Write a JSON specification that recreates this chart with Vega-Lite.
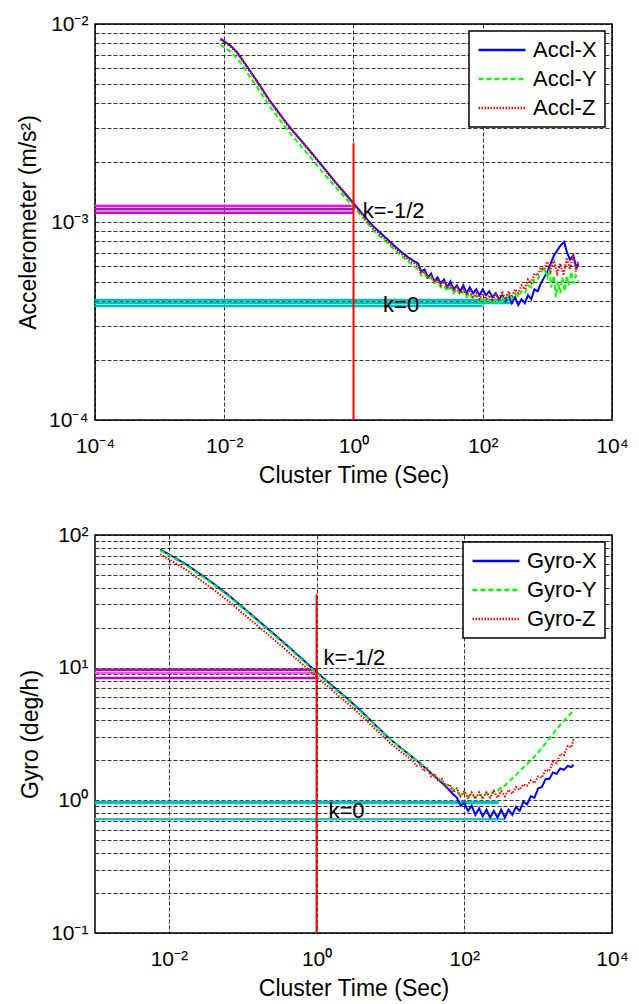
{
  "$schema": "https://vega.github.io/schema/vega-lite/v6.json",
  "padding": {"left": 16, "top": 12, "right": 0, "bottom": 0},
  "spacing": 35,
  "config": {
    "font": "Liberation Sans",
    "view": {"stroke": "#000000", "strokeWidth": 1.5},
    "axis": {
      "domain": false,
      "ticks": false,
      "grid": true,
      "gridColor": "#000000",
      "gridDash": [4, 2],
      "gridWidth": 0.8,
      "labelFont": "Liberation Sans",
      "labelFontSize": 21,
      "labelColor": "#000000",
      "titleFont": "Liberation Sans",
      "titleFontSize": 23,
      "titleFontWeight": "normal",
      "titleColor": "#000000",
      "labelOverlap": false,
      "labelFlush": false,
      "labelBound": false
    },
    "axisX": {"labelPadding": 15, "titlePadding": 8},
    "axisY": {"labelPadding": 7, "titlePadding": 8},
    "legend": {
      "strokeColor": "#000000",
      "fillColor": "#ffffff",
      "strokeWidth": 1.5,
      "padding": 8,
      "cornerRadius": 0,
      "symbolType": "stroke",
      "symbolSize": 2209,
      "symbolStrokeWidth": 2.5,
      "clipHeight": 22,
      "labelFont": "Liberation Sans",
      "labelFontSize": 22,
      "labelColor": "#000000",
      "labelOffset": 6,
      "rowPadding": 7
    }
  },
  "datasets": {
    "accl": [
      {"series": "Accl-X", "tau": 0.00871, "adev": 0.00843},
      {"series": "Accl-X", "tau": 0.01, "adev": 0.00817},
      {"series": "Accl-X", "tau": 0.01259, "adev": 0.00776},
      {"series": "Accl-X", "tau": 0.01585, "adev": 0.00719},
      {"series": "Accl-X", "tau": 0.01995, "adev": 0.00646},
      {"series": "Accl-X", "tau": 0.03162, "adev": 0.00519},
      {"series": "Accl-X", "tau": 0.05012, "adev": 0.00412},
      {"series": "Accl-X", "tau": 0.1, "adev": 0.00305},
      {"series": "Accl-X", "tau": 0.1995, "adev": 0.00234},
      {"series": "Accl-X", "tau": 0.3162, "adev": 0.00195},
      {"series": "Accl-X", "tau": 0.5012, "adev": 0.00162},
      {"series": "Accl-X", "tau": 1, "adev": 0.001245},
      {"series": "Accl-X", "tau": 1.259, "adev": 0.001138},
      {"series": "Accl-X", "tau": 1.995, "adev": 0.000955},
      {"series": "Accl-X", "tau": 3.162, "adev": 0.000832},
      {"series": "Accl-X", "tau": 5.012, "adev": 0.000724},
      {"series": "Accl-X", "tau": 7.079, "adev": 0.000661},
      {"series": "Accl-X", "tau": 10, "adev": 0.0006166},
      {"series": "Accl-X", "tau": 11.22, "adev": 0.0005623},
      {"series": "Accl-X", "tau": 12.59, "adev": 0.0005754},
      {"series": "Accl-X", "tau": 14.13, "adev": 0.0005248},
      {"series": "Accl-X", "tau": 15.85, "adev": 0.0005495},
      {"series": "Accl-X", "tau": 17.78, "adev": 0.0005012},
      {"series": "Accl-X", "tau": 19.95, "adev": 0.0005248},
      {"series": "Accl-X", "tau": 22.39, "adev": 0.0004898},
      {"series": "Accl-X", "tau": 25.12, "adev": 0.0005129},
      {"series": "Accl-X", "tau": 28.18, "adev": 0.0004677},
      {"series": "Accl-X", "tau": 31.62, "adev": 0.0005012},
      {"series": "Accl-X", "tau": 35.48, "adev": 0.0004571},
      {"series": "Accl-X", "tau": 39.81, "adev": 0.0004786},
      {"series": "Accl-X", "tau": 44.67, "adev": 0.0004467},
      {"series": "Accl-X", "tau": 50.12, "adev": 0.0004786},
      {"series": "Accl-X", "tau": 56.23, "adev": 0.0004365},
      {"series": "Accl-X", "tau": 63.1, "adev": 0.0004677},
      {"series": "Accl-X", "tau": 70.79, "adev": 0.0004365},
      {"series": "Accl-X", "tau": 79.43, "adev": 0.0004571},
      {"series": "Accl-X", "tau": 89.13, "adev": 0.0004266},
      {"series": "Accl-X", "tau": 100, "adev": 0.0004571},
      {"series": "Accl-X", "tau": 112.2, "adev": 0.0004266},
      {"series": "Accl-X", "tau": 125.9, "adev": 0.0004467},
      {"series": "Accl-X", "tau": 141.3, "adev": 0.0004169},
      {"series": "Accl-X", "tau": 158.5, "adev": 0.0004365},
      {"series": "Accl-X", "tau": 177.8, "adev": 0.0004074},
      {"series": "Accl-X", "tau": 199.5, "adev": 0.0004266},
      {"series": "Accl-X", "tau": 223.9, "adev": 0.0003981},
      {"series": "Accl-X", "tau": 251.2, "adev": 0.0004266},
      {"series": "Accl-X", "tau": 281.8, "adev": 0.000389},
      {"series": "Accl-X", "tau": 316.2, "adev": 0.0004169},
      {"series": "Accl-X", "tau": 354.8, "adev": 0.0003802},
      {"series": "Accl-X", "tau": 398.1, "adev": 0.0004074},
      {"series": "Accl-X", "tau": 446.7, "adev": 0.000389},
      {"series": "Accl-X", "tau": 501.2, "adev": 0.0004266},
      {"series": "Accl-X", "tau": 562.3, "adev": 0.0004074},
      {"series": "Accl-X", "tau": 631, "adev": 0.0004571},
      {"series": "Accl-X", "tau": 707.9, "adev": 0.0004467},
      {"series": "Accl-X", "tau": 794.3, "adev": 0.0004898},
      {"series": "Accl-X", "tau": 1000, "adev": 0.0005623},
      {"series": "Accl-X", "tau": 1259, "adev": 0.0006761},
      {"series": "Accl-X", "tau": 1585, "adev": 0.0007586},
      {"series": "Accl-X", "tau": 1820, "adev": 0.0007943},
      {"series": "Accl-X", "tau": 1995, "adev": 0.0007079},
      {"series": "Accl-X", "tau": 2239, "adev": 0.0006457},
      {"series": "Accl-X", "tau": 2512, "adev": 0.0006761},
      {"series": "Accl-X", "tau": 2818, "adev": 0.0005888},
      {"series": "Accl-X", "tau": 3020, "adev": 0.0006166},
      {"series": "Accl-Y", "tau": 0.00871, "adev": 0.00787},
      {"series": "Accl-Y", "tau": 0.01, "adev": 0.00762},
      {"series": "Accl-Y", "tau": 0.01259, "adev": 0.00724},
      {"series": "Accl-Y", "tau": 0.01585, "adev": 0.00671},
      {"series": "Accl-Y", "tau": 0.01995, "adev": 0.00603},
      {"series": "Accl-Y", "tau": 0.03162, "adev": 0.00484},
      {"series": "Accl-Y", "tau": 0.05012, "adev": 0.00385},
      {"series": "Accl-Y", "tau": 0.1, "adev": 0.00285},
      {"series": "Accl-Y", "tau": 0.1995, "adev": 0.00219},
      {"series": "Accl-Y", "tau": 0.3162, "adev": 0.00182},
      {"series": "Accl-Y", "tau": 0.5012, "adev": 0.00153},
      {"series": "Accl-Y", "tau": 1, "adev": 0.00119},
      {"series": "Accl-Y", "tau": 1.259, "adev": 0.001096},
      {"series": "Accl-Y", "tau": 1.995, "adev": 0.000912},
      {"series": "Accl-Y", "tau": 3.162, "adev": 0.000794},
      {"series": "Accl-Y", "tau": 5.012, "adev": 0.000692},
      {"series": "Accl-Y", "tau": 7.079, "adev": 0.000631},
      {"series": "Accl-Y", "tau": 10, "adev": 0.0005754},
      {"series": "Accl-Y", "tau": 11.22, "adev": 0.000537},
      {"series": "Accl-Y", "tau": 12.59, "adev": 0.0005495},
      {"series": "Accl-Y", "tau": 14.13, "adev": 0.0005129},
      {"series": "Accl-Y", "tau": 15.85, "adev": 0.0005248},
      {"series": "Accl-Y", "tau": 17.78, "adev": 0.0004898},
      {"series": "Accl-Y", "tau": 19.95, "adev": 0.0005012},
      {"series": "Accl-Y", "tau": 22.39, "adev": 0.0004677},
      {"series": "Accl-Y", "tau": 25.12, "adev": 0.0004786},
      {"series": "Accl-Y", "tau": 28.18, "adev": 0.0004467},
      {"series": "Accl-Y", "tau": 31.62, "adev": 0.0004677},
      {"series": "Accl-Y", "tau": 35.48, "adev": 0.0004365},
      {"series": "Accl-Y", "tau": 39.81, "adev": 0.0004571},
      {"series": "Accl-Y", "tau": 44.67, "adev": 0.0004266},
      {"series": "Accl-Y", "tau": 50.12, "adev": 0.0004467},
      {"series": "Accl-Y", "tau": 56.23, "adev": 0.0004169},
      {"series": "Accl-Y", "tau": 63.1, "adev": 0.0004365},
      {"series": "Accl-Y", "tau": 70.79, "adev": 0.0004074},
      {"series": "Accl-Y", "tau": 79.43, "adev": 0.0004266},
      {"series": "Accl-Y", "tau": 89.13, "adev": 0.0003981},
      {"series": "Accl-Y", "tau": 100, "adev": 0.0004169},
      {"series": "Accl-Y", "tau": 112.2, "adev": 0.000389},
      {"series": "Accl-Y", "tau": 125.9, "adev": 0.0004074},
      {"series": "Accl-Y", "tau": 141.3, "adev": 0.000389},
      {"series": "Accl-Y", "tau": 158.5, "adev": 0.0004074},
      {"series": "Accl-Y", "tau": 177.8, "adev": 0.000389},
      {"series": "Accl-Y", "tau": 199.5, "adev": 0.0004169},
      {"series": "Accl-Y", "tau": 223.9, "adev": 0.0003981},
      {"series": "Accl-Y", "tau": 251.2, "adev": 0.0004266},
      {"series": "Accl-Y", "tau": 281.8, "adev": 0.0004074},
      {"series": "Accl-Y", "tau": 316.2, "adev": 0.0004365},
      {"series": "Accl-Y", "tau": 354.8, "adev": 0.0004169},
      {"series": "Accl-Y", "tau": 398.1, "adev": 0.0004467},
      {"series": "Accl-Y", "tau": 446.7, "adev": 0.0004365},
      {"series": "Accl-Y", "tau": 501.2, "adev": 0.0004786},
      {"series": "Accl-Y", "tau": 562.3, "adev": 0.0004677},
      {"series": "Accl-Y", "tau": 631, "adev": 0.0005129},
      {"series": "Accl-Y", "tau": 707.9, "adev": 0.0005129},
      {"series": "Accl-Y", "tau": 794.3, "adev": 0.0005623},
      {"series": "Accl-Y", "tau": 891.3, "adev": 0.0005888},
      {"series": "Accl-Y", "tau": 1000, "adev": 0.0005248},
      {"series": "Accl-Y", "tau": 1072, "adev": 0.0005754},
      {"series": "Accl-Y", "tau": 1148, "adev": 0.0004677},
      {"series": "Accl-Y", "tau": 1259, "adev": 0.000537},
      {"series": "Accl-Y", "tau": 1349, "adev": 0.0004169},
      {"series": "Accl-Y", "tau": 1445, "adev": 0.0005012},
      {"series": "Accl-Y", "tau": 1585, "adev": 0.0004365},
      {"series": "Accl-Y", "tau": 1698, "adev": 0.0005248},
      {"series": "Accl-Y", "tau": 1862, "adev": 0.0004467},
      {"series": "Accl-Y", "tau": 1995, "adev": 0.000537},
      {"series": "Accl-Y", "tau": 2138, "adev": 0.0004786},
      {"series": "Accl-Y", "tau": 2344, "adev": 0.0005623},
      {"series": "Accl-Y", "tau": 2512, "adev": 0.0004898},
      {"series": "Accl-Y", "tau": 2754, "adev": 0.000537},
      {"series": "Accl-Y", "tau": 3020, "adev": 0.0005012},
      {"series": "Accl-Z", "tau": 0.00871, "adev": 0.00834},
      {"series": "Accl-Z", "tau": 0.01, "adev": 0.00807},
      {"series": "Accl-Z", "tau": 0.01259, "adev": 0.00767},
      {"series": "Accl-Z", "tau": 0.01585, "adev": 0.00711},
      {"series": "Accl-Z", "tau": 0.01995, "adev": 0.00638},
      {"series": "Accl-Z", "tau": 0.03162, "adev": 0.00513},
      {"series": "Accl-Z", "tau": 0.05012, "adev": 0.00407},
      {"series": "Accl-Z", "tau": 0.1, "adev": 0.00302},
      {"series": "Accl-Z", "tau": 0.1995, "adev": 0.00232},
      {"series": "Accl-Z", "tau": 0.3162, "adev": 0.00193},
      {"series": "Accl-Z", "tau": 0.5012, "adev": 0.0016},
      {"series": "Accl-Z", "tau": 1, "adev": 0.00123},
      {"series": "Accl-Z", "tau": 1.259, "adev": 0.001122},
      {"series": "Accl-Z", "tau": 1.995, "adev": 0.000933},
      {"series": "Accl-Z", "tau": 3.162, "adev": 0.000813},
      {"series": "Accl-Z", "tau": 5.012, "adev": 0.000708},
      {"series": "Accl-Z", "tau": 7.079, "adev": 0.000646},
      {"series": "Accl-Z", "tau": 10, "adev": 0.0006026},
      {"series": "Accl-Z", "tau": 11.22, "adev": 0.0005495},
      {"series": "Accl-Z", "tau": 12.59, "adev": 0.0005623},
      {"series": "Accl-Z", "tau": 14.13, "adev": 0.0005248},
      {"series": "Accl-Z", "tau": 15.85, "adev": 0.000537},
      {"series": "Accl-Z", "tau": 17.78, "adev": 0.0005012},
      {"series": "Accl-Z", "tau": 19.95, "adev": 0.0005129},
      {"series": "Accl-Z", "tau": 22.39, "adev": 0.0004786},
      {"series": "Accl-Z", "tau": 25.12, "adev": 0.0005012},
      {"series": "Accl-Z", "tau": 28.18, "adev": 0.0004677},
      {"series": "Accl-Z", "tau": 31.62, "adev": 0.0004786},
      {"series": "Accl-Z", "tau": 35.48, "adev": 0.0004467},
      {"series": "Accl-Z", "tau": 39.81, "adev": 0.0004677},
      {"series": "Accl-Z", "tau": 44.67, "adev": 0.0004365},
      {"series": "Accl-Z", "tau": 50.12, "adev": 0.0004571},
      {"series": "Accl-Z", "tau": 56.23, "adev": 0.0004266},
      {"series": "Accl-Z", "tau": 63.1, "adev": 0.0004467},
      {"series": "Accl-Z", "tau": 70.79, "adev": 0.0004169},
      {"series": "Accl-Z", "tau": 79.43, "adev": 0.0004365},
      {"series": "Accl-Z", "tau": 89.13, "adev": 0.0004074},
      {"series": "Accl-Z", "tau": 100, "adev": 0.0004365},
      {"series": "Accl-Z", "tau": 112.2, "adev": 0.0004074},
      {"series": "Accl-Z", "tau": 125.9, "adev": 0.0004266},
      {"series": "Accl-Z", "tau": 141.3, "adev": 0.0003981},
      {"series": "Accl-Z", "tau": 158.5, "adev": 0.0004365},
      {"series": "Accl-Z", "tau": 177.8, "adev": 0.0004074},
      {"series": "Accl-Z", "tau": 199.5, "adev": 0.0004467},
      {"series": "Accl-Z", "tau": 223.9, "adev": 0.0004074},
      {"series": "Accl-Z", "tau": 251.2, "adev": 0.0004467},
      {"series": "Accl-Z", "tau": 281.8, "adev": 0.0004169},
      {"series": "Accl-Z", "tau": 316.2, "adev": 0.0004571},
      {"series": "Accl-Z", "tau": 354.8, "adev": 0.0004365},
      {"series": "Accl-Z", "tau": 398.1, "adev": 0.0004786},
      {"series": "Accl-Z", "tau": 446.7, "adev": 0.0004571},
      {"series": "Accl-Z", "tau": 501.2, "adev": 0.0005129},
      {"series": "Accl-Z", "tau": 562.3, "adev": 0.0004898},
      {"series": "Accl-Z", "tau": 631, "adev": 0.0005495},
      {"series": "Accl-Z", "tau": 707.9, "adev": 0.000537},
      {"series": "Accl-Z", "tau": 794.3, "adev": 0.0005888},
      {"series": "Accl-Z", "tau": 891.3, "adev": 0.0005754},
      {"series": "Accl-Z", "tau": 1000, "adev": 0.000631},
      {"series": "Accl-Z", "tau": 1122, "adev": 0.0005623},
      {"series": "Accl-Z", "tau": 1259, "adev": 0.0006457},
      {"series": "Accl-Z", "tau": 1413, "adev": 0.0005495},
      {"series": "Accl-Z", "tau": 1585, "adev": 0.0006166},
      {"series": "Accl-Z", "tau": 1778, "adev": 0.000537},
      {"series": "Accl-Z", "tau": 1995, "adev": 0.0006607},
      {"series": "Accl-Z", "tau": 2239, "adev": 0.0005754},
      {"series": "Accl-Z", "tau": 2512, "adev": 0.0006918},
      {"series": "Accl-Z", "tau": 2754, "adev": 0.0005623},
      {"series": "Accl-Z", "tau": 3020, "adev": 0.000631}
    ],
    "gyro": [
      {"series": "Gyro-X", "tau": 0.00762, "adev": 78.0},
      {"series": "Gyro-X", "tau": 0.01, "adev": 71.6},
      {"series": "Gyro-X", "tau": 0.01585, "adev": 61.7},
      {"series": "Gyro-X", "tau": 0.02512, "adev": 51.9},
      {"series": "Gyro-X", "tau": 0.03981, "adev": 43.2},
      {"series": "Gyro-X", "tau": 0.0631, "adev": 35.5},
      {"series": "Gyro-X", "tau": 0.1, "adev": 28.5},
      {"series": "Gyro-X", "tau": 0.1585, "adev": 22.9},
      {"series": "Gyro-X", "tau": 0.2512, "adev": 18.4},
      {"series": "Gyro-X", "tau": 0.3981, "adev": 14.7},
      {"series": "Gyro-X", "tau": 0.631, "adev": 11.7},
      {"series": "Gyro-X", "tau": 1, "adev": 9.23},
      {"series": "Gyro-X", "tau": 1.585, "adev": 7.41},
      {"series": "Gyro-X", "tau": 2.512, "adev": 5.96},
      {"series": "Gyro-X", "tau": 3.981, "adev": 4.73},
      {"series": "Gyro-X", "tau": 6.31, "adev": 3.67},
      {"series": "Gyro-X", "tau": 10, "adev": 2.88},
      {"series": "Gyro-X", "tau": 15.85, "adev": 2.34},
      {"series": "Gyro-X", "tau": 25.12, "adev": 1.905},
      {"series": "Gyro-X", "tau": 39.81, "adev": 1.514},
      {"series": "Gyro-X", "tau": 56.23, "adev": 1.274},
      {"series": "Gyro-X", "tau": 70.79, "adev": 1.109},
      {"series": "Gyro-X", "tau": 79.43, "adev": 1.047},
      {"series": "Gyro-X", "tau": 89.13, "adev": 0.912},
      {"series": "Gyro-X", "tau": 100, "adev": 0.955},
      {"series": "Gyro-X", "tau": 112.2, "adev": 0.832},
      {"series": "Gyro-X", "tau": 125.9, "adev": 0.912},
      {"series": "Gyro-X", "tau": 141.3, "adev": 0.776},
      {"series": "Gyro-X", "tau": 158.5, "adev": 0.871},
      {"series": "Gyro-X", "tau": 177.8, "adev": 0.759},
      {"series": "Gyro-X", "tau": 199.5, "adev": 0.851},
      {"series": "Gyro-X", "tau": 223.9, "adev": 0.741},
      {"series": "Gyro-X", "tau": 251.2, "adev": 0.832},
      {"series": "Gyro-X", "tau": 281.8, "adev": 0.741},
      {"series": "Gyro-X", "tau": 316.2, "adev": 0.851},
      {"series": "Gyro-X", "tau": 354.8, "adev": 0.741},
      {"series": "Gyro-X", "tau": 398.1, "adev": 0.851},
      {"series": "Gyro-X", "tau": 446.7, "adev": 0.776},
      {"series": "Gyro-X", "tau": 501.2, "adev": 0.891},
      {"series": "Gyro-X", "tau": 562.3, "adev": 0.832},
      {"series": "Gyro-X", "tau": 631, "adev": 0.977},
      {"series": "Gyro-X", "tau": 707.9, "adev": 0.933},
      {"series": "Gyro-X", "tau": 794.3, "adev": 1.072},
      {"series": "Gyro-X", "tau": 891.3, "adev": 1.047},
      {"series": "Gyro-X", "tau": 1000, "adev": 1.23},
      {"series": "Gyro-X", "tau": 1122, "adev": 1.259},
      {"series": "Gyro-X", "tau": 1259, "adev": 1.445},
      {"series": "Gyro-X", "tau": 1413, "adev": 1.445},
      {"series": "Gyro-X", "tau": 1585, "adev": 1.622},
      {"series": "Gyro-X", "tau": 1778, "adev": 1.585},
      {"series": "Gyro-X", "tau": 1995, "adev": 1.738},
      {"series": "Gyro-X", "tau": 2239, "adev": 1.698},
      {"series": "Gyro-X", "tau": 2512, "adev": 1.82},
      {"series": "Gyro-X", "tau": 2818, "adev": 1.778},
      {"series": "Gyro-X", "tau": 3020, "adev": 1.862},
      {"series": "Gyro-Y", "tau": 0.00762, "adev": 76.7},
      {"series": "Gyro-Y", "tau": 0.01, "adev": 70.5},
      {"series": "Gyro-Y", "tau": 0.01585, "adev": 60.7},
      {"series": "Gyro-Y", "tau": 0.02512, "adev": 51.1},
      {"series": "Gyro-Y", "tau": 0.03981, "adev": 42.5},
      {"series": "Gyro-Y", "tau": 0.0631, "adev": 34.9},
      {"series": "Gyro-Y", "tau": 0.1, "adev": 28.1},
      {"series": "Gyro-Y", "tau": 0.1585, "adev": 22.5},
      {"series": "Gyro-Y", "tau": 0.2512, "adev": 18.1},
      {"series": "Gyro-Y", "tau": 0.3981, "adev": 14.45},
      {"series": "Gyro-Y", "tau": 0.631, "adev": 11.48},
      {"series": "Gyro-Y", "tau": 1, "adev": 9.08},
      {"series": "Gyro-Y", "tau": 1.585, "adev": 7.28},
      {"series": "Gyro-Y", "tau": 2.512, "adev": 5.86},
      {"series": "Gyro-Y", "tau": 3.981, "adev": 4.66},
      {"series": "Gyro-Y", "tau": 6.31, "adev": 3.63},
      {"series": "Gyro-Y", "tau": 10, "adev": 2.87},
      {"series": "Gyro-Y", "tau": 15.85, "adev": 2.33},
      {"series": "Gyro-Y", "tau": 25.12, "adev": 1.905},
      {"series": "Gyro-Y", "tau": 39.81, "adev": 1.531},
      {"series": "Gyro-Y", "tau": 56.23, "adev": 1.318},
      {"series": "Gyro-Y", "tau": 79.43, "adev": 1.161},
      {"series": "Gyro-Y", "tau": 89.13, "adev": 1.072},
      {"series": "Gyro-Y", "tau": 100, "adev": 1.148},
      {"series": "Gyro-Y", "tau": 112.2, "adev": 1.059},
      {"series": "Gyro-Y", "tau": 125.9, "adev": 1.122},
      {"series": "Gyro-Y", "tau": 141.3, "adev": 1.047},
      {"series": "Gyro-Y", "tau": 158.5, "adev": 1.109},
      {"series": "Gyro-Y", "tau": 177.8, "adev": 1.059},
      {"series": "Gyro-Y", "tau": 199.5, "adev": 1.135},
      {"series": "Gyro-Y", "tau": 223.9, "adev": 1.096},
      {"series": "Gyro-Y", "tau": 251.2, "adev": 1.189},
      {"series": "Gyro-Y", "tau": 281.8, "adev": 1.175},
      {"series": "Gyro-Y", "tau": 316.2, "adev": 1.259},
      {"series": "Gyro-Y", "tau": 354.8, "adev": 1.288},
      {"series": "Gyro-Y", "tau": 398.1, "adev": 1.38},
      {"series": "Gyro-Y", "tau": 501.2, "adev": 1.549},
      {"series": "Gyro-Y", "tau": 631, "adev": 1.778},
      {"series": "Gyro-Y", "tau": 794.3, "adev": 1.995},
      {"series": "Gyro-Y", "tau": 1000, "adev": 2.291},
      {"series": "Gyro-Y", "tau": 1259, "adev": 2.692},
      {"series": "Gyro-Y", "tau": 1585, "adev": 3.162},
      {"series": "Gyro-Y", "tau": 1995, "adev": 3.715},
      {"series": "Gyro-Y", "tau": 2512, "adev": 4.266},
      {"series": "Gyro-Y", "tau": 3020, "adev": 4.73},
      {"series": "Gyro-Z", "tau": 0.00762, "adev": 71.9},
      {"series": "Gyro-Z", "tau": 0.01, "adev": 65.8},
      {"series": "Gyro-Z", "tau": 0.01585, "adev": 56.2},
      {"series": "Gyro-Z", "tau": 0.02512, "adev": 47.0},
      {"series": "Gyro-Z", "tau": 0.03981, "adev": 38.9},
      {"series": "Gyro-Z", "tau": 0.0631, "adev": 32.0},
      {"series": "Gyro-Z", "tau": 0.1, "adev": 25.7},
      {"series": "Gyro-Z", "tau": 0.1585, "adev": 20.7},
      {"series": "Gyro-Z", "tau": 0.2512, "adev": 16.7},
      {"series": "Gyro-Z", "tau": 0.3981, "adev": 13.4},
      {"series": "Gyro-Z", "tau": 0.631, "adev": 10.7},
      {"series": "Gyro-Z", "tau": 1, "adev": 8.51},
      {"series": "Gyro-Z", "tau": 1.585, "adev": 6.84},
      {"series": "Gyro-Z", "tau": 2.512, "adev": 5.5},
      {"series": "Gyro-Z", "tau": 3.981, "adev": 4.37},
      {"series": "Gyro-Z", "tau": 6.31, "adev": 3.43},
      {"series": "Gyro-Z", "tau": 10, "adev": 2.69},
      {"series": "Gyro-Z", "tau": 15.85, "adev": 2.19},
      {"series": "Gyro-Z", "tau": 19.95, "adev": 1.995},
      {"series": "Gyro-Z", "tau": 22.39, "adev": 1.82},
      {"series": "Gyro-Z", "tau": 25.12, "adev": 1.862},
      {"series": "Gyro-Z", "tau": 28.18, "adev": 1.66},
      {"series": "Gyro-Z", "tau": 31.62, "adev": 1.738},
      {"series": "Gyro-Z", "tau": 35.48, "adev": 1.514},
      {"series": "Gyro-Z", "tau": 39.81, "adev": 1.585},
      {"series": "Gyro-Z", "tau": 44.67, "adev": 1.38},
      {"series": "Gyro-Z", "tau": 50.12, "adev": 1.445},
      {"series": "Gyro-Z", "tau": 56.23, "adev": 1.259},
      {"series": "Gyro-Z", "tau": 63.1, "adev": 1.318},
      {"series": "Gyro-Z", "tau": 70.79, "adev": 1.148},
      {"series": "Gyro-Z", "tau": 79.43, "adev": 1.23},
      {"series": "Gyro-Z", "tau": 89.13, "adev": 1.072},
      {"series": "Gyro-Z", "tau": 100, "adev": 1.175},
      {"series": "Gyro-Z", "tau": 112.2, "adev": 1.047},
      {"series": "Gyro-Z", "tau": 125.9, "adev": 1.148},
      {"series": "Gyro-Z", "tau": 141.3, "adev": 1.023},
      {"series": "Gyro-Z", "tau": 158.5, "adev": 1.148},
      {"series": "Gyro-Z", "tau": 177.8, "adev": 1.023},
      {"series": "Gyro-Z", "tau": 199.5, "adev": 1.148},
      {"series": "Gyro-Z", "tau": 223.9, "adev": 1.047},
      {"series": "Gyro-Z", "tau": 251.2, "adev": 1.175},
      {"series": "Gyro-Z", "tau": 281.8, "adev": 1.047},
      {"series": "Gyro-Z", "tau": 316.2, "adev": 1.175},
      {"series": "Gyro-Z", "tau": 354.8, "adev": 1.072},
      {"series": "Gyro-Z", "tau": 398.1, "adev": 1.202},
      {"series": "Gyro-Z", "tau": 446.7, "adev": 1.122},
      {"series": "Gyro-Z", "tau": 501.2, "adev": 1.259},
      {"series": "Gyro-Z", "tau": 562.3, "adev": 1.202},
      {"series": "Gyro-Z", "tau": 631, "adev": 1.318},
      {"series": "Gyro-Z", "tau": 707.9, "adev": 1.288},
      {"series": "Gyro-Z", "tau": 794.3, "adev": 1.413},
      {"series": "Gyro-Z", "tau": 891.3, "adev": 1.349},
      {"series": "Gyro-Z", "tau": 1000, "adev": 1.514},
      {"series": "Gyro-Z", "tau": 1122, "adev": 1.479},
      {"series": "Gyro-Z", "tau": 1259, "adev": 1.698},
      {"series": "Gyro-Z", "tau": 1413, "adev": 1.66},
      {"series": "Gyro-Z", "tau": 1585, "adev": 1.95},
      {"series": "Gyro-Z", "tau": 1778, "adev": 1.905},
      {"series": "Gyro-Z", "tau": 1995, "adev": 2.239},
      {"series": "Gyro-Z", "tau": 2239, "adev": 2.188},
      {"series": "Gyro-Z", "tau": 2512, "adev": 2.57},
      {"series": "Gyro-Z", "tau": 2818, "adev": 2.512},
      {"series": "Gyro-Z", "tau": 3020, "adev": 2.884}
    ],
    "acclFits": [
      {"fit": "k=-1/2 upper", "from": 0.0001, "to": 1, "level": 0.001205},
      {"fit": "k=-1/2 centre", "from": 0.0001, "to": 1, "level": 0.001159},
      {"fit": "k=-1/2 lower", "from": 0.0001, "to": 1, "level": 0.001114},
      {"fit": "k=0 upper", "from": 0.0001, "to": 295, "level": 0.000404},
      {"fit": "k=0 centre", "from": 0.0001, "to": 300, "level": 0.00039},
      {"fit": "k=0 lower", "from": 0.0001, "to": 100, "level": 0.000377}
    ],
    "gyroFits": [
      {"fit": "k=-1/2 upper", "from": 0.001, "to": 1, "level": 9.66},
      {"fit": "k=-1/2 centre", "from": 0.001, "to": 1, "level": 9.12},
      {"fit": "k=-1/2 lower", "from": 0.001, "to": 1, "level": 8.36},
      {"fit": "k=0 upper", "from": 0.001, "to": 291, "level": 0.97},
      {"fit": "k=0 centre", "from": 0.001, "to": 291, "level": 0.955},
      {"fit": "k=0 lower", "from": 0.001, "to": 358, "level": 0.721}
    ],
    "acclMarker": [{"tau": 1, "top": 0.0025, "bottom": 0.0001}],
    "gyroMarker": [{"tau": 1, "top": 35.7, "bottom": 0.1}],
    "acclNotes": [
      {"tau": 1.39, "adev": 0.00114, "note": "k=-1/2"},
      {"tau": 2.87, "adev": 0.000381, "note": "k=0"}
    ],
    "gyroNotes": [
      {"tau": 1.245, "adev": 11.8, "note": "k=-1/2"},
      {"tau": 1.45, "adev": 0.83, "note": "k=0"}
    ]
  },
  "vconcat": [
    {
      "width": 517,
      "height": 396,
      "layer": [
        {
          "data": {"name": "acclFits"},
          "mark": {"type": "rule", "strokeWidth": 2.5, "clip": true},
          "encoding": {
            "x": {
              "field": "from", "type": "quantitative", "title": "Cluster Time (Sec)",
              "scale": {"type": "log", "domain": [0.0001, 10000], "nice": false},
              "axis": {
                "values": [0.0001, 0.01, 1, 100, 10000],
                "labelExpr": "abs(log(datum.value)/LN10 - round(log(datum.value)/LN10)) < 0.001 ? '10' + replace(replace(replace(replace(replace(replace('' + round(log(datum.value)/LN10), '-', '⁻'), '0', '⁰'), '1', '¹'), '2', '²'), '3', '³'), '4', '⁴') : ''"
              }
            },
            "x2": {"field": "to"},
            "y": {
              "field": "level", "type": "quantitative", "title": "Accelerometer (m/s²)",
              "scale": {"type": "log", "domain": [0.0001, 0.01], "nice": false},
              "axis": {
                "values": [0.0001, 0.0002, 0.0003, 0.0004, 0.0005, 0.0006, 0.0007, 0.0008, 0.0009, 0.001, 0.002, 0.003, 0.004, 0.005, 0.006, 0.007, 0.008, 0.009, 0.01],
                "labelExpr": "abs(log(datum.value)/LN10 - round(log(datum.value)/LN10)) < 0.001 ? '10' + replace(replace(replace(replace(replace(replace('' + round(log(datum.value)/LN10), '-', '⁻'), '0', '⁰'), '1', '¹'), '2', '²'), '3', '³'), '4', '⁴') : ''"
              }
            },
            "stroke": {
              "field": "fit", "type": "nominal", "legend": null,
              "scale": {
                "domain": ["k=-1/2 upper", "k=-1/2 centre", "k=-1/2 lower", "k=0 upper", "k=0 centre", "k=0 lower"],
                "range": ["#ff00ff", "#a020a0", "#cc00cc", "#00bfbf", "#00bfbf", "#00bfbf"]
              }
            }
          }
        },
        {
          "data": {"name": "accl"},
          "mark": {"type": "line", "strokeWidth": 2, "clip": true},
          "encoding": {
            "x": {"field": "tau", "type": "quantitative", "title": "Cluster Time (Sec)", "scale": {"type": "log", "domain": [0.0001, 10000], "nice": false}},
            "y": {"field": "adev", "type": "quantitative", "title": "Accelerometer (m/s²)", "scale": {"type": "log", "domain": [0.0001, 0.01], "nice": false}},
            "color": {
              "field": "series", "type": "nominal",
              "scale": {"domain": ["Accl-X", "Accl-Y", "Accl-Z"], "range": ["#0000ff", "#00ff00", "#ff0000"]},
              "legend": {"title": null, "orient": "top-right", "offset": 7}
            },
            "strokeDash": {
              "field": "series", "type": "nominal",
              "scale": {"domain": ["Accl-X", "Accl-Y", "Accl-Z"], "range": [[1, 0], [5, 3], [1.5, 1.5]]},
              "legend": {"title": null, "orient": "top-right", "offset": 7}
            }
          }
        },
        {
          "data": {"name": "acclMarker"},
          "mark": {"type": "rule", "color": "#ff0000", "strokeWidth": 2, "clip": true},
          "encoding": {
            "x": {"field": "tau", "type": "quantitative", "title": "Cluster Time (Sec)", "scale": {"type": "log", "domain": [0.0001, 10000], "nice": false}},
            "y": {"field": "top", "type": "quantitative", "title": "Accelerometer (m/s²)", "scale": {"type": "log", "domain": [0.0001, 0.01], "nice": false}},
            "y2": {"field": "bottom"}
          }
        },
        {
          "data": {"name": "acclNotes"},
          "mark": {"type": "text", "align": "left", "baseline": "middle", "fontSize": 22, "font": "Liberation Sans", "color": "#000000"},
          "encoding": {
            "x": {"field": "tau", "type": "quantitative", "title": "Cluster Time (Sec)", "scale": {"type": "log", "domain": [0.0001, 10000], "nice": false}},
            "y": {"field": "adev", "type": "quantitative", "title": "Accelerometer (m/s²)", "scale": {"type": "log", "domain": [0.0001, 0.01], "nice": false}},
            "text": {"field": "note"}
          }
        }
      ]
    },
    {
      "width": 517,
      "height": 398,
      "layer": [
        {
          "data": {"name": "gyroFits"},
          "mark": {"type": "rule", "strokeWidth": 2.5, "clip": true},
          "encoding": {
            "x": {
              "field": "from", "type": "quantitative", "title": "Cluster Time (Sec)",
              "scale": {"type": "log", "domain": [0.001, 10000], "nice": false},
              "axis": {
                "values": [0.01, 1, 100, 10000],
                "labelExpr": "abs(log(datum.value)/LN10 - round(log(datum.value)/LN10)) < 0.001 ? '10' + replace(replace(replace(replace(replace(replace('' + round(log(datum.value)/LN10), '-', '⁻'), '0', '⁰'), '1', '¹'), '2', '²'), '3', '³'), '4', '⁴') : ''"
              }
            },
            "x2": {"field": "to"},
            "y": {
              "field": "level", "type": "quantitative", "title": "Gyro (deg/h)",
              "scale": {"type": "log", "domain": [0.1, 100], "nice": false},
              "axis": {
                "values": [0.1, 0.2, 0.3, 0.4, 0.5, 0.6, 0.7, 0.8, 0.9, 1, 2, 3, 4, 5, 6, 7, 8, 9, 10, 20, 30, 40, 50, 60, 70, 80, 90, 100],
                "labelExpr": "abs(log(datum.value)/LN10 - round(log(datum.value)/LN10)) < 0.001 ? '10' + replace(replace(replace(replace(replace(replace('' + round(log(datum.value)/LN10), '-', '⁻'), '0', '⁰'), '1', '¹'), '2', '²'), '3', '³'), '4', '⁴') : ''"
              }
            },
            "stroke": {
              "field": "fit", "type": "nominal", "legend": null,
              "scale": {
                "domain": ["k=-1/2 upper", "k=-1/2 centre", "k=-1/2 lower", "k=0 upper", "k=0 centre", "k=0 lower"],
                "range": ["#bf00bf", "#e060e0", "#bf00bf", "#00bfbf", "#00bfbf", "#30c0c0"]
              }
            }
          }
        },
        {
          "data": {"name": "gyro"},
          "mark": {"type": "line", "strokeWidth": 2, "clip": true},
          "encoding": {
            "x": {"field": "tau", "type": "quantitative", "title": "Cluster Time (Sec)", "scale": {"type": "log", "domain": [0.001, 10000], "nice": false}},
            "y": {"field": "adev", "type": "quantitative", "title": "Gyro (deg/h)", "scale": {"type": "log", "domain": [0.1, 100], "nice": false}},
            "color": {
              "field": "series", "type": "nominal",
              "scale": {"domain": ["Gyro-X", "Gyro-Y", "Gyro-Z"], "range": ["#0000ff", "#00ff00", "#ff0000"]},
              "legend": {"title": null, "orient": "top-right", "offset": 7}
            },
            "strokeDash": {
              "field": "series", "type": "nominal",
              "scale": {"domain": ["Gyro-X", "Gyro-Y", "Gyro-Z"], "range": [[1, 0], [5, 3], [1.5, 1.5]]},
              "legend": {"title": null, "orient": "top-right", "offset": 7}
            }
          }
        },
        {
          "data": {"name": "gyroMarker"},
          "mark": {"type": "rule", "color": "#ff0000", "strokeWidth": 2, "clip": true},
          "encoding": {
            "x": {"field": "tau", "type": "quantitative", "title": "Cluster Time (Sec)", "scale": {"type": "log", "domain": [0.001, 10000], "nice": false}},
            "y": {"field": "top", "type": "quantitative", "title": "Gyro (deg/h)", "scale": {"type": "log", "domain": [0.1, 100], "nice": false}},
            "y2": {"field": "bottom"}
          }
        },
        {
          "data": {"name": "gyroNotes"},
          "mark": {"type": "text", "align": "left", "baseline": "middle", "fontSize": 22, "font": "Liberation Sans", "color": "#000000"},
          "encoding": {
            "x": {"field": "tau", "type": "quantitative", "title": "Cluster Time (Sec)", "scale": {"type": "log", "domain": [0.001, 10000], "nice": false}},
            "y": {"field": "adev", "type": "quantitative", "title": "Gyro (deg/h)", "scale": {"type": "log", "domain": [0.1, 100], "nice": false}},
            "text": {"field": "note"}
          }
        }
      ]
    }
  ],
  "resolve": {
    "scale": {"x": "independent", "y": "independent", "color": "independent", "strokeDash": "independent", "stroke": "independent"},
    "legend": {"color": "independent", "strokeDash": "independent"}
  }
}
